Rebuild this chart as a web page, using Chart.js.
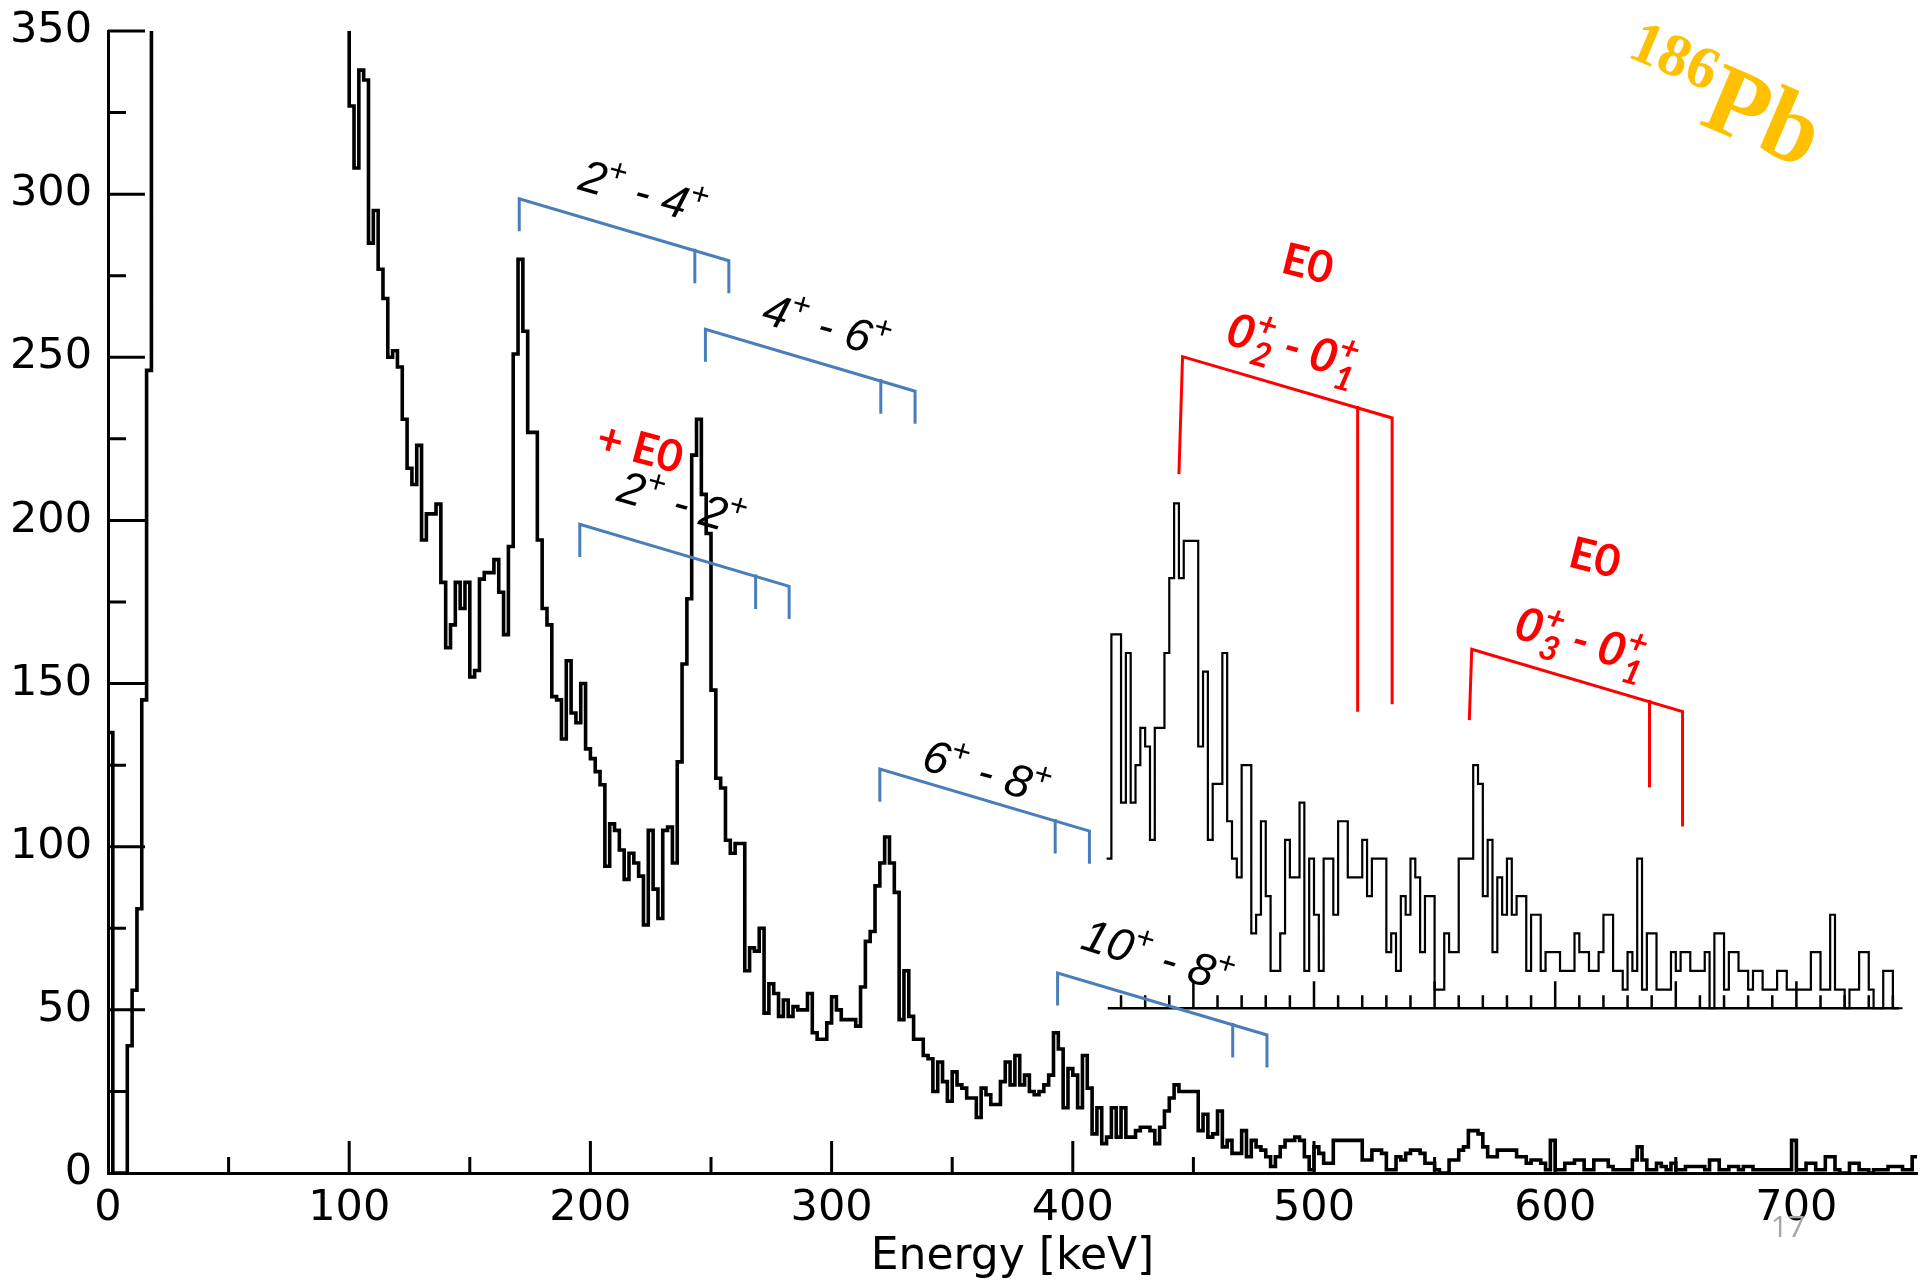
<!DOCTYPE html>
<html>
<head>
<meta charset="utf-8">
<script src="https://cdn.jsdelivr.net/npm/chart.js@4.4.0/dist/chart.umd.min.js"></script>
<style>
  html, body { margin: 0; padding: 0; background: #fff; }
  #wrap { width: 1920px; height: 1285px; }
</style>
</head>
<body>
<div id="wrap"><canvas id="spectrum" width="1920" height="1285"></canvas></div>
<script>
// axes
const xTickValues = [0, 100, 200, 300, 400, 500, 600, 700];
const yTickValues = [0, 50, 100, 150, 200, 250, 300, 350];
const binWidth = 2; // keV

// spectrum below 18 keV (beyond 18 keV the counts run off the top of the frame until 100 keV)
const lowStart = 0;
const lowCounts = [135, 0, 0, 0, 39, 56, 81, 145, 246];

// main spectrum, 2 keV bins from 100 keV
const mainStart = 100;
const mainCounts = [
  327, 308, 338, 335, 285, 295, 277, 268, 250, 252,
  247, 231, 216, 211, 223, 194, 202, 202, 205, 181,
  161, 168, 181, 173, 181, 152, 154, 182, 184, 184,
  188, 178, 165, 192, 251, 280, 258, 227, 227, 194,
  173, 168, 146, 145, 133, 157, 141, 138, 150, 130,
  127, 123, 119, 94, 107, 105, 99, 90, 98, 95,
  91, 76, 105, 87, 78, 105, 106, 95, 126, 156,
  176, 220, 231, 208, 196, 148, 121, 118, 102, 98,
  101, 101, 62, 69, 68, 75, 49, 58, 55, 48,
  53, 48, 51, 50, 50, 55, 43, 41, 41, 46,
  54, 50, 47, 47, 47, 45, 57, 71, 74, 88,
  95, 103, 95, 86, 47, 62, 48, 41, 41, 36,
  35, 25, 34, 28, 22, 31, 27, 26, 23, 23,
  17, 26, 24, 21, 21, 28, 34, 27, 36, 27,
  30, 25, 24, 25, 27, 30, 43, 38, 20, 32,
  30, 20, 36, 26, 12, 20, 9, 11, 20, 11,
  20, 11, 11, 13, 14, 14, 13, 9, 14, 19,
  23, 27, 25, 25, 25, 25, 13, 18, 11, 12,
  19, 8, 10, 6, 6, 13, 5, 10, 8, 7,
  5, 2, 5, 8, 10, 10, 11, 10, 5, 1,
  8, 6, 3, 3, 10, 10, 10, 10, 10, 10,
  4, 4, 7, 7, 6, 1, 1, 5, 4, 6,
  7, 7, 6, 3, 3, 1, 0, 0, 4, 4,
  7, 8, 13, 13, 12, 8, 5, 5, 7, 7,
  7, 7, 5, 5, 3, 4, 4, 3, 1, 10,
  1, 1, 3, 3, 4, 4, 1, 1, 4, 4,
  4, 2, 1, 1, 1, 1, 4, 8, 4, 1,
  1, 3, 2, 1, 3, 1, 1, 2, 2, 2,
  2, 1, 4, 4, 1, 1, 2, 2, 1, 2,
  2, 1, 1, 1, 1, 1, 1, 1, 1, 10,
  1, 1, 3, 3, 1, 1, 5, 5, 1, 0,
  0, 3, 3, 1, 1, 0, 1, 1, 1, 2,
  2, 2, 1, 1, 5
];

// inset (expanded view of 414-744 keV), its own count scale
const insetStart = 414;
const insetCounts = [
  8, 20, 20, 11, 19, 11, 13, 15, 14, 9,
  15, 15, 19, 23, 27, 23, 25, 25, 25, 14,
  18, 9, 12, 12, 19, 10, 8, 7, 13, 13,
  4, 5, 10, 6, 2, 2, 4, 9, 7, 7,
  11, 2, 8, 5, 2, 8, 8, 5, 10, 10,
  7, 7, 7, 9, 6, 8, 8, 8, 3, 4,
  2, 6, 5, 8, 7, 3, 6, 6, 1, 1,
  4, 3, 3, 8, 8, 8, 13, 12, 6, 9,
  3, 7, 5, 8, 5, 6, 6, 2, 5, 5,
  2, 3, 3, 3, 2, 2, 2, 4, 3, 3,
  2, 2, 3, 5, 5, 2, 2, 1, 3, 2,
  8, 1, 4, 4, 1, 1, 1, 3, 2, 3,
  3, 2, 2, 2, 3, 0, 4, 4, 1, 3,
  3, 2, 2, 1, 2, 2, 1, 1, 1, 2,
  2, 1, 1, 1, 1, 1, 3, 3, 1, 1,
  5, 1, 1, 0, 1, 1, 3, 3, 1, 0,
  0, 2, 2, 0, 0
];

// conversion-electron K, L, M lines of the band transitions (keV) and bracket height (counts)
const bandNames = ['2+ - 4+', '4+ - 6+', '2+ - 2+', '6+ - 8+', '10+ - 8+'];
const bandK = [170.5, 247.7, 195.6, 320.0, 393.7];
const bandL = [243.3, 320.4, 268.5, 392.7, 466.3];
const bandM = [257.4, 334.6, 282.4, 406.9, 480.5];
const bandTop = [298.6, 258.6, 198.8, 123.8, 61.3];

// E0 lines
const e0Names = ['0+2 - 0+1', '0+3 - 0+1'];
const e0K = [445.5, 565.4];
const e0KFoot = [444.0, 564.4];
const e0L = [518.1, 639.1];
const e0M = [532.4, 652.8];
const e0Top = [250.2, 160.5];
const e0MTop = [231.4, 141.4];
const e0KBottom = [214.2, 138.8];
const e0LBottom = [141.4, 118.2];
const e0MBottom = [143.7, 106.2];

// ---------------------------------------------------------------

function histPoints(start, counts) {
  const pts = counts.map((c, i) => ({ x: start + i * binWidth, y: c }));
  pts.push({ x: start + counts.length * binWidth, y: counts[counts.length - 1] });
  return pts;
}

const Y_MAX = 350;
const lowPts = histPoints(lowStart, lowCounts);
lowPts[lowPts.length - 1].y = Y_MAX;           // line leaves the frame at 18 keV
const mainPts = lowPts
  .concat([{ x: 60, y: null }, { x: mainStart, y: Y_MAX }])
  .concat(histPoints(mainStart, mainCounts));
const insetPts = histPoints(insetStart, insetCounts);

// inset placement: baseline at main count 50.5, 1 inset count = 5.73 main counts
const insetBase = 50.5, insetUnit = 5.73;

const BLUE = '#4a7ebb', RED = '#ff0000';
const LAB = { size: 46, style: 'italic', fam: '"Liberation Sans"', color: '#000', ratio: 0.7 };
const RLAB = { size: 47, style: 'italic bold', fam: 'Lato', color: RED, ratio: 0.72 };
const RE0 = { size: 44, style: 'bold', fam: 'Lato', color: RED, ratio: 0.7 };

const textItems = [
  { ...LAB, parts: [{ n: '2' }, { sup: '+' }, { n: ' - 4' }, { sup: '+' }], e: 222, c: 301, rot: 16 },
  { ...LAB, parts: [{ n: '4' }, { sup: '+' }, { n: ' - 6' }, { sup: '+' }], e: 298, c: 260, rot: 16 },
  { ...LAB, parts: [{ n: '2' }, { sup: '+' }, { n: ' - 2' }, { sup: '+' }], e: 238, c: 205.6, rot: 16 },
  { ...LAB, parts: [{ n: '6' }, { sup: '+' }, { n: ' - 8' }, { sup: '+' }], e: 364.3, c: 123.2, rot: 16 },
  { ...LAB, parts: [{ n: '10' }, { sup: '+' }, { n: ' - 8' }, { sup: '+' }], e: 435.3, c: 66.8, rot: 17 },
  { ...RE0, parts: [{ n: '+ E0' }], e: 220.7, c: 222.5, rot: 15 },
  { ...RE0, parts: [{ n: 'E0' }], e: 497.5, c: 278.9, rot: 14 },
  { ...RLAB, parts: [{ n: '0' }, { sup: '+', sub: '2' }, { n: ' - 0' }, { sup: '+', sub: '1' }], e: 491.3, c: 253.5, rot: 16 },
  { ...RE0, parts: [{ n: 'E0' }], e: 616.6, c: 188.8, rot: 14 },
  { ...RLAB, parts: [{ n: '0' }, { sup: '+', sub: '3' }, { n: ' - 0' }, { sup: '+', sub: '1' }], e: 610.8, c: 163.5, rot: 16 }
];

function drawRich(ctx, t, cx, cy) {
  const small = Math.round(t.size * t.ratio);
  const big = `${t.style} ${t.size}px ${t.fam}`;
  const sm = `${t.style} ${small}px ${t.fam}`;
  ctx.save();
  ctx.translate(cx, cy);
  ctx.rotate(t.rot * Math.PI / 180);
  ctx.fillStyle = t.color;
  ctx.textAlign = 'left';
  ctx.textBaseline = 'alphabetic';
  const widths = t.parts.map(p => {
    if (p.n !== undefined) { ctx.font = big; return ctx.measureText(p.n).width; }
    ctx.font = sm;
    return Math.max(p.sup ? ctx.measureText(p.sup).width : 0, p.sub ? ctx.measureText(p.sub).width + 2 : 0);
  });
  let xx = -widths.reduce((a, b) => a + b, 0) / 2;
  const base = t.size * 0.36;
  t.parts.forEach((p, i) => {
    if (p.n !== undefined) { ctx.font = big; ctx.fillText(p.n, xx, base); }
    else {
      ctx.font = sm;
      if (p.sup) ctx.fillText(p.sup, xx, base - t.size * 0.4);
      if (p.sub) ctx.fillText(p.sub, xx + 2, base + t.size * 0.26);
    }
    xx += widths[i];
  });
  ctx.restore();
}

const overlay = {
  id: 'overlay',
  afterDatasetsDraw(chart) {
    const { ctx, scales } = chart;
    const x = scales.x, y = scales.y, y2 = scales.y2;
    const px = v => x.getPixelForValue(v);
    const py = v => y.getPixelForValue(v);
    const seg = (pts) => {
      ctx.beginPath();
      pts.forEach((p, i) => i ? ctx.lineTo(px(p[0]), py(p[1])) : ctx.moveTo(px(p[0]), py(p[1])));
      ctx.stroke();
    };
    ctx.save();
    ctx.lineCap = 'butt';

    // inward ticks of the main axes
    ctx.strokeStyle = '#000';
    ctx.lineWidth = 3;
    ctx.beginPath();
    for (let v = 25; v <= 350; v += 25) {
      const len = v % 50 === 0 ? 37 : 18;
      ctx.moveTo(x.left, py(v)); ctx.lineTo(x.left + len, py(v));
    }
    for (let v = 50; v <= 700; v += 50) {
      const len = v % 100 === 0 ? 32 : 16;
      ctx.moveTo(px(v), y.bottom); ctx.lineTo(px(v), y.bottom - len);
    }
    ctx.stroke();

    // inset axis
    const by = y2.getPixelForValue(0);
    ctx.lineWidth = 2.5;
    ctx.beginPath();
    ctx.moveTo(px(414.5), by); ctx.lineTo(px(742.5), by);
    for (let v = 420; v <= 740; v += 10) {
      const len = v % 50 === 0 ? 27 : 13;
      ctx.moveTo(px(v), by); ctx.lineTo(px(v), by - len);
    }
    ctx.stroke();

    // band brackets
    ctx.strokeStyle = BLUE;
    ctx.lineWidth = 3;
    const drop = 19, leg = 10;
    bandK.forEach((k, i) => {
      const top = bandTop[i], m = bandM[i], l = bandL[i];
      const at = e => top - drop * (e - k) / (m - k);
      seg([[k, top - leg], [k, top], [m, at(m)], [m, at(m) - leg]]);
      seg([[l, at(l) + 0.6], [l, at(l) - leg]]);
    });

    // E0 brackets
    ctx.strokeStyle = RED;
    e0K.forEach((k, i) => {
      const m = e0M[i], l = e0L[i];
      const at = e => e0Top[i] + (e0MTop[i] - e0Top[i]) * (e - k) / (m - k);
      seg([[e0KFoot[i], e0KBottom[i]], [k, e0Top[i]], [m, e0MTop[i]], [m, e0MBottom[i]]]);
      seg([[l, at(l) + 0.6], [l, e0LBottom[i]]]);
    });

    // labels
    textItems.forEach(t => drawRich(ctx, t, px(t.e), py(t.c)));

    // axis title and slide number
    ctx.fillStyle = '#000';
    ctx.font = '44px "DejaVu Sans"';
    ctx.textAlign = 'center';
    ctx.textBaseline = 'middle';
    ctx.fillText('Energy [keV]', (x.left + x.right) / 2, 1258);
    ctx.fillStyle = '#a6a6a6';
    ctx.font = '30px "Open Sans"';
    ctx.fillText('17', 1788, 1228);

    // nucleus tag
    ctx.save();
    ctx.translate(1626, 56);
    ctx.rotate(23 * Math.PI / 180);
    ctx.fillStyle = '#ffc000';
    ctx.textAlign = 'left';
    ctx.textBaseline = 'alphabetic';
    ctx.font = 'bold 60px "Liberation Serif"';
    ctx.fillText('186', 0, 0);
    const w = ctx.measureText('186').width;
    ctx.font = 'bold 100px "Liberation Serif"';
    ctx.fillText('Pb', w + 2, 34);
    ctx.restore();

    ctx.restore();
  }
};

const tickFont = { family: '"DejaVu Sans"', size: 43 };

new Chart(document.getElementById('spectrum'), {
  type: 'line',
  data: {
    datasets: [
      {
        label: 'spectrum',
        data: mainPts,
        xAxisID: 'x', yAxisID: 'y',
        stepped: 'before',
        borderColor: '#000', borderWidth: 3.6,
        pointRadius: 0, fill: false, spanGaps: false
      },
      {
        label: 'inset',
        data: insetPts,
        xAxisID: 'x', yAxisID: 'y2',
        stepped: 'before',
        borderColor: '#000', borderWidth: 2.2,
        pointRadius: 0, fill: false
      }
    ]
  },
  options: {
    responsive: false,
    devicePixelRatio: 1,
    animation: false,
    events: [],
    layout: { padding: { top: 31, right: 3, left: 0, bottom: 0 } },
    plugins: { legend: { display: false }, tooltip: { enabled: false } },
    scales: {
      x: {
        type: 'linear', position: 'bottom', min: 0, max: 750,
        grid: { display: false, drawTicks: false },
        border: { display: true, color: '#000', width: 3 },
        ticks: { color: '#000', font: tickFont, padding: 10, maxRotation: 0, autoSkip: false },
        afterBuildTicks: s => { s.ticks = xTickValues.map(v => ({ value: v })); },
        afterFit: s => { s.height = 112; s.paddingLeft = 0; s.paddingRight = 0; }
      },
      y: {
        type: 'linear', position: 'left', min: 0, max: Y_MAX,
        grid: { display: false, drawTicks: false },
        border: { display: true, color: '#000', width: 3 },
        ticks: { color: '#000', font: tickFont, padding: 16, autoSkip: false },
        afterBuildTicks: s => { s.ticks = yTickValues.map(v => ({ value: v })); },
        afterFit: s => { s.width = 108; s.paddingTop = 0; s.paddingBottom = 0; }
      },
      y2: {
        type: 'linear', position: 'right', display: false,
        min: (0 - insetBase) / insetUnit,
        max: (Y_MAX - insetBase) / insetUnit
      }
    }
  },
  plugins: [overlay]
});
</script>
</body>
</html>
